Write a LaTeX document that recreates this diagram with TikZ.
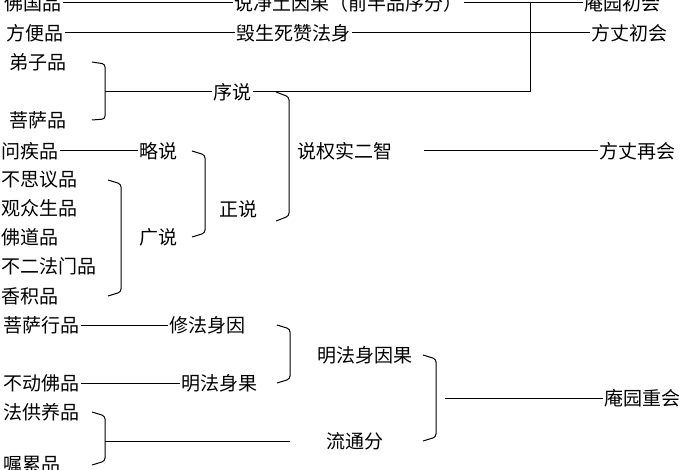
\documentclass[tikz,border=0pt]{standalone}
\usepackage{fontspec}
\newfontfamily\cjk{Noto Sans CJK SC}
\begin{document}
\begin{tikzpicture}[x=1pt,y=-1pt,
  every node/.style={anchor=west, inner sep=1pt, font=\cjk\fontsize{19}{20}\selectfont},
  every path/.style={line width=1pt}]
\useasboundingbox[fill=white] (0,0) rectangle (700,470);
% top rows
\node (fgp) at (3,3) {佛国品};
\node (jtyg) at (233,3) {说净土因果（前半品序分）};
\node (aycb) at (583,3) {庵园初会};
\node (fbp) at (5,33) {方便品};
\node (hss) at (235,33) {毁生死赞法身};
\node (fzcb) at (590,33) {方丈初会};
\draw (fgp) -- (jtyg);
\draw (jtyg) -- (aycb);
\draw (fbp) -- (hss);
\draw (hss) -- (fzcb);
% xu shuo
\node (dzp) at (8,62) {弟子品};
\node (psp) at (8,120) {菩萨品};
\node (xs) at (212,92) {序说};
\coordinate (xsend) at (530,92);
\coordinate (xstop) at (530,3);
\draw[rounded corners=3pt] (92,62) -- (105,64) -- (105,119) -- (92,120);
\draw (105,92) -- (xs);
\draw (xs) -- (xsend) -- (xstop);
% zheng shuo
\node (wjp) at (0,151) {问疾品};
\node (ls) at (138,151) {略说};
\node (bsy) at (0,180) {不思议品};
\node (gzs) at (0,208) {观众生品};
\node (fdp) at (0,237) {佛道品};
\node (befm) at (0,266) {不二法门品};
\node (xjp) at (0,296) {香积品};
\node (gs) at (138,237) {广说};
\node (zs) at (218,209) {正说};
\draw (wjp) -- (ls);
\draw[rounded corners=3pt] (108,180) -- (121,184) -- (121,292) -- (108,296);
\draw[rounded corners=3pt] (192,151) -- (205,155) -- (205,233) -- (192,237);
% quan shi
\node (qs) at (296,151) {说权实二智};
\node (fzzh) at (598,151) {方丈再会};
\draw[rounded corners=3pt] (276,92) -- (289,97) -- (289,216) -- (276,221);
\draw (qs.east) ++(30,0) -- (fzzh);
% fa shen
\node (psx) at (2,325) {菩萨行品};
\node (xfs) at (168,325) {修法身因};
\node (bdf) at (2,383) {不动佛品};
\node (mfs) at (180,383) {明法身果};
\node (mfyg) at (316,355) {明法身因果};
\draw (psx) -- (xfs);
\draw (bdf) -- (mfs);
\draw[rounded corners=3pt] (277,325) -- (290,329) -- (290,379) -- (277,383);
% liu tong
\node (fgy) at (2,412) {法供养品};
\node (zlp) at (2,465) {嘱累品};
\node (ltf) at (325,441) {流通分};
\node (ayzh) at (603,398) {庵园重会};
\draw[rounded corners=3pt] (92,412) -- (105,416) -- (105,461) -- (92,465);
\draw (105,441) -- (290,441);
\draw[rounded corners=3pt] (423,355) -- (436,359) -- (436,437) -- (423,441);
\draw (445,398) -- (ayzh);
\end{tikzpicture}
\end{document}
